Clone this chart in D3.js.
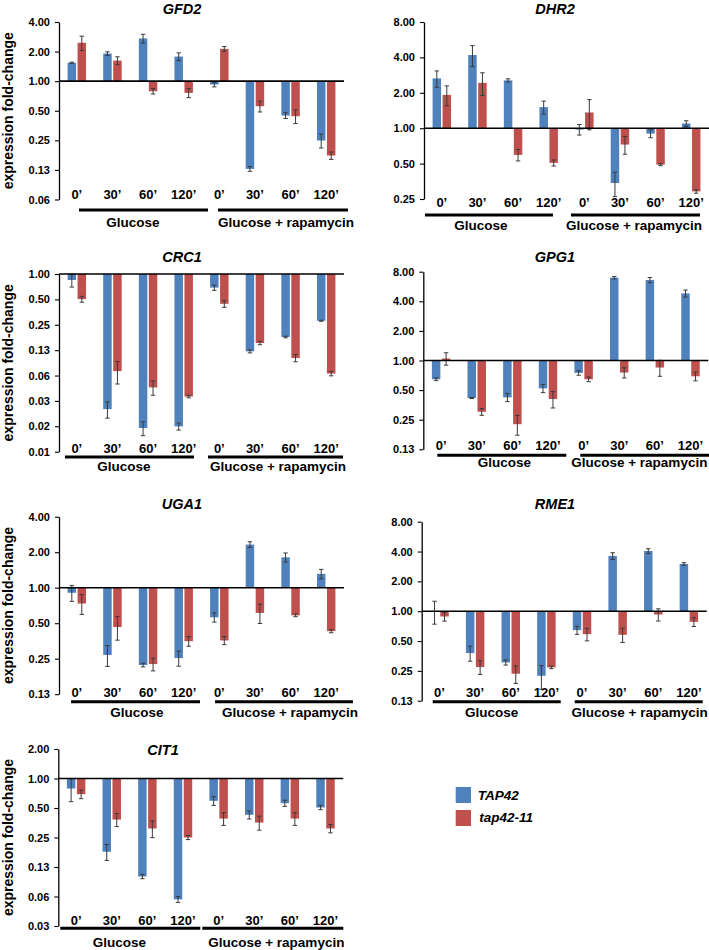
<!DOCTYPE html>
<html>
<head>
<meta charset="utf-8">
<script src="https://cdn.jsdelivr.net/npm/d3@7/dist/d3.min.js"></script>
<style>
  html, body { margin: 0; padding: 0; background: #fff; }
  svg { display: block; }
  text { font-family: "Liberation Sans", Arial, sans-serif; font-weight: bold; fill: #000; }
</style>
</head>
<body>
<script>
// ---------------- DATA ----------------
const timeLabels = ["0’", "30’", "60’", "120’", "0’", "30’", "60’", "120’"];
const conditions = ["Glucose", "Glucose + rapamycin"];
const seriesNames = ["TAP42", "tap42-11"];
const seriesColors = ["#4F81BD", "#C0504D"];

const GFD2_TAP42     = [1.54, 1.91, 2.72, 1.78, 0.925, 0.128, 0.447, 0.249];
const GFD2_TAP42_err = [0.02, 0.08, 0.28, 0.16, 0.05, 0.007, 0.03, 0.04];
const GFD2_tap42_11     = [2.46, 1.62, 0.79, 0.76, 2.13, 0.556, 0.44, 0.175];
const GFD2_tap42_11_err = [0.41, 0.15, 0.05, 0.08, 0.12, 0.07, 0.07, 0.015];
const GFD2_ticks = [4, 2, 1, 0.5, 0.25, 0.125, 0.0625];

const DHR2_TAP42     = [2.65, 4.19, 2.55, 1.51, 0.974, 0.342, 0.90, 1.096];
const DHR2_TAP42_err = [0.42, 0.85, 0.08, 0.19, 0.10, 0.08, 0.07, 0.06];
const DHR2_tap42_11     = [1.92, 2.43, 0.593, 0.507, 1.36, 0.726, 0.49, 0.29];
const DHR2_tap42_11_err = [0.37, 0.53, 0.066, 0.03, 0.39, 0.125, 0.01, 0.01];
const DHR2_ticks = [8, 4, 2, 1, 0.5, 0.25];

const CRC1_TAP42     = [0.85, 0.025, 0.0149, 0.0156, 0.69, 0.121, 0.179, 0.279];
const CRC1_TAP42_err = [0.15, 0.0055, 0.0028, 0.0015, 0.05, 0.005, 0.004, 0.004];
const CRC1_tap42_11     = [0.503, 0.0706, 0.0452, 0.0352, 0.443, 0.152, 0.101, 0.066];
const CRC1_tap42_11_err = [0.04, 0.021, 0.0087, 0.0012, 0.04, 0.007, 0.01, 0.004];
const CRC1_ticks = [1, 0.5, 0.25, 0.125, 0.0625, 0.03125, 0.015625, 0.0078125];

const GPG1_TAP42     = [0.644, 0.415, 0.422, 0.521, 0.748, 6.95, 6.58, 4.81];
const GPG1_TAP42_err = [0.02, 0.005, 0.04, 0.05, 0.04, 0.2, 0.4, 0.39];
const GPG1_tap42_11     = [1.048, 0.301, 0.225, 0.406, 0.644, 0.754, 0.848, 0.691];
const GPG1_tap42_11_err = [0.15, 0.024, 0.051, 0.077, 0.035, 0.09, 0.157, 0.07];
const GPG1_ticks = [8, 4, 2, 1, 0.5, 0.25, 0.125];

const UGA1_TAP42     = [0.906, 0.269, 0.221, 0.253, 0.561, 2.32, 1.81, 1.31];
const UGA1_TAP42_err = [0.14, 0.054, 0.008, 0.037, 0.05, 0.13, 0.16, 0.12];
const UGA1_tap42_11     = [0.734, 0.464, 0.225, 0.352, 0.357, 0.611, 0.583, 0.428];
const UGA1_tap42_11_err = [0.14, 0.105, 0.028, 0.033, 0.028, 0.114, 0.015, 0.013];
const UGA1_ticks = [4, 2, 1, 0.5, 0.25, 0.125];

const RME1_TAP42     = [1.0, 0.378, 0.304, 0.223, 0.644, 3.61, 4.05, 3.0];
const RME1_TAP42_err = [0.26, 0.065, 0.018, 0.06, 0.06, 0.28, 0.22, 0.09];
const RME1_tap42_11     = [0.884, 0.273, 0.234, 0.271, 0.587, 0.578, 0.926, 0.781];
const RME1_tap42_11_err = [0.09, 0.043, 0.047, 0.008, 0.085, 0.095, 0.13, 0.08];
const RME1_ticks = [8, 4, 2, 1, 0.5, 0.25, 0.125];

const CIT1_TAP42     = [0.79, 0.179, 0.10, 0.0584, 0.592, 0.426, 0.56, 0.506];
const CIT1_TAP42_err = [0.21, 0.033, 0.005, 0.004, 0.06, 0.04, 0.04, 0.025];
const CIT1_tap42_11     = [0.692, 0.381, 0.309, 0.25, 0.39, 0.355, 0.39, 0.309];
const CIT1_tap42_11_err = [0.07, 0.058, 0.06, 0.012, 0.058, 0.058, 0.058, 0.03];
const CIT1_ticks = [2, 1, 0.5, 0.25, 0.125, 0.0625, 0.03125];

const genes = [
  { name: "GFD2", vals: [GFD2_TAP42, GFD2_tap42_11], errs: [GFD2_TAP42_err, GFD2_tap42_11_err], ticks: GFD2_ticks },
  { name: "DHR2", vals: [DHR2_TAP42, DHR2_tap42_11], errs: [DHR2_TAP42_err, DHR2_tap42_11_err], ticks: DHR2_ticks },
  { name: "CRC1", vals: [CRC1_TAP42, CRC1_tap42_11], errs: [CRC1_TAP42_err, CRC1_tap42_11_err], ticks: CRC1_ticks },
  { name: "GPG1", vals: [GPG1_TAP42, GPG1_tap42_11], errs: [GPG1_TAP42_err, GPG1_tap42_11_err], ticks: GPG1_ticks },
  { name: "UGA1", vals: [UGA1_TAP42, UGA1_tap42_11], errs: [UGA1_TAP42_err, UGA1_tap42_11_err], ticks: UGA1_ticks },
  { name: "RME1", vals: [RME1_TAP42, RME1_tap42_11], errs: [RME1_TAP42_err, RME1_tap42_11_err], ticks: RME1_ticks },
  { name: "CIT1", vals: [CIT1_TAP42, CIT1_tap42_11], errs: [CIT1_TAP42_err, CIT1_tap42_11_err], ticks: CIT1_ticks }
];

// ---------------- LAYOUT ----------------
const PW = 285;
const layout = [
  { ax: 59,    top: 22,    bot: 199.5, tx: 182, ty: 13.5,  lab: 199,   line: 210,   grp: 226.5, ylab: true,  gl: [20, 149], rp: [159, 289], gx: 74, rx: 227 },
  { ax: 424,   top: 22,    bot: 199,   tx: 555, ty: 13.5,  lab: 207,   line: 215,   grp: 230,   ylab: false, gl: [1, 129],  rp: [147, 276], gx: 57, rx: 210 },
  { ax: 59,    top: 274,   bot: 451.7, tx: 182, ty: 262,   lab: 452.5, line: 457,   grp: 470.5, ylab: true,  gl: [6, 135],  rp: [149, 284], gx: 65, rx: 219 },
  { ax: 423.3, top: 271.7, bot: 449.3, tx: 555, ty: 261.7, lab: 450,   line: 455.3, grp: 466.5, ylab: false, gl: [14, 143], rp: [157, 286], gx: 81, rx: 216 },
  { ax: 59,    top: 516.7, bot: 694.2, tx: 182, ty: 508.5, lab: 696.5, line: 701.7, grp: 717,   ylab: true,  gl: [12, 141], rp: [156, 294], gx: 78, rx: 231 },
  { ax: 421.7, top: 521.7, bot: 700.7, tx: 555, ty: 508.5, lab: 696.5, line: 701.7, grp: 717,   ylab: false, gl: [11, 139], rp: [153, 281], gx: 70, rx: 218 },
  { ax: 58.3,  top: 749,   bot: 926,   tx: 163, ty: 755,   lab: 925,   line: 928.3, grp: 946.5, ylab: true,  gl: [2, 142],  rp: [144, 285], gx: 61, rx: 218 }
];

const svg = d3.select("body").append("svg").attr("width", 709).attr("height", 950);
const color = d3.scaleOrdinal().domain(seriesNames).range(seriesColors);
const fmt = d3.format(".2f");

genes.forEach((gene, gi) => {
  const L = layout[gi];
  const g = svg.append("g");
  const y = d3.scaleLog().base(2)
    .domain([d3.min(gene.ticks), d3.max(gene.ticks)])
    .range([L.bot, L.top]);
  const x0 = d3.scaleBand().domain(d3.range(timeLabels.length)).range([L.ax, L.ax + PW]);
  const x1 = d3.scaleBand().domain(seriesNames).range([0, x0.bandwidth()])
    .paddingInner(0.15).paddingOuter(0.86);

  // bars
  seriesNames.forEach((s, si) => {
    const rows = gene.vals[si].map((v, i) => ({ i, v, e: gene.errs[si][i] }));
    g.append("g").selectAll("rect").data(rows).join("rect")
      .attr("x", d => x0(d.i) + x1(s))
      .attr("width", x1.bandwidth())
      .attr("y", d => Math.min(y(d.v), y(1)))
      .attr("height", d => Math.abs(y(d.v) - y(1)))
      .attr("fill", color(s));
  });

  // error bars
  seriesNames.forEach((s, si) => {
    const rows = gene.vals[si].map((v, i) => ({ i, v, e: gene.errs[si][i] }));
    const eg = g.append("g").attr("stroke", "#3a3a3a").attr("stroke-width", 1).attr("fill", "none");
    rows.forEach(d => {
      const cx = x0(d.i) + x1(s) + x1.bandwidth() / 2;
      const hi = y(d.v + d.e), lo = y(Math.max(d.v - d.e, 1e-6));
      eg.append("line").attr("x1", cx).attr("x2", cx).attr("y1", hi).attr("y2", lo);
      eg.append("line").attr("x1", cx - 2.2).attr("x2", cx + 2.2).attr("y1", hi).attr("y2", hi);
      eg.append("line").attr("x1", cx - 2.2).attr("x2", cx + 2.2).attr("y1", lo).attr("y2", lo);
    });
  });

  // baseline at 1.00
  g.append("line")
    .attr("x1", L.ax).attr("x2", L.ax + PW)
    .attr("y1", y(1)).attr("y2", y(1))
    .attr("stroke", "#000").attr("stroke-width", 1.6);

  // y axis
  const yAxis = d3.axisLeft(y).tickValues(gene.ticks).tickFormat(fmt)
    .tickSize(4).tickSizeOuter(0).tickPadding(5);
  const ya = g.append("g").attr("transform", `translate(${L.ax},0)`).call(yAxis);
  ya.select(".domain").attr("stroke", "#000").attr("stroke-width", 1.3);
  ya.selectAll(".tick line").attr("stroke", "#000").attr("stroke-width", 1.1);
  ya.selectAll(".tick text")
    .style("font-family", "'Liberation Sans', Arial, sans-serif")
    .style("font-weight", "bold").style("font-size", "11px").attr("fill", "#000");

  // title
  g.append("text").attr("x", L.tx).attr("y", L.ty)
    .attr("text-anchor", "middle").style("font-size", "14.5px").style("font-style", "italic")
    .text(gene.name);

  // time labels
  g.append("g").selectAll("text").data(timeLabels).join("text")
    .attr("x", (d, i) => x0(i) + x0.bandwidth() / 2)
    .attr("y", L.lab)
    .attr("text-anchor", "middle").style("font-size", "13px")
    .text(d => d);

  // condition lines & labels
  [[L.gl, L.gx, conditions[0]], [L.rp, L.rx, conditions[1]]].forEach(([span, cx, label]) => {
    g.append("line")
      .attr("x1", L.ax + span[0]).attr("x2", L.ax + span[1])
      .attr("y1", L.line).attr("y2", L.line)
      .attr("stroke", "#000").attr("stroke-width", 3);
    g.append("text").attr("x", L.ax + cx).attr("y", L.grp)
      .attr("text-anchor", "middle").style("font-size", "13.5px")
      .text(label);
  });

  // y label
  if (L.ylab) {
    const cy = (L.top + L.bot) / 2;
    g.append("text")
      .attr("transform", `translate(13,${cy}) rotate(-90)`)
      .attr("text-anchor", "middle").style("font-size", "14px")
      .text("expression fold-change");
  }
});

// legend
const leg = svg.append("g");
seriesNames.forEach((s, i) => {
  leg.append("rect").attr("x", 455.7).attr("y", 787 + i * 23)
    .attr("width", 15.3).attr("height", 16).attr("fill", color(s));
  leg.append("text").attr("x", 477.7 + i * 1.6).attr("y", 800 + i * 21.5)
    .style("font-size", "13.5px").style("font-style", "italic")
    .text(s);
});
</script>
</body>
</html>
